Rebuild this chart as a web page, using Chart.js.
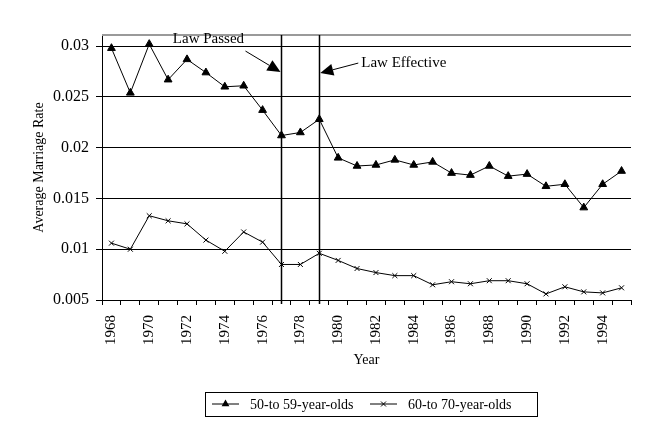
<!DOCTYPE html>
<html>
<head>
<meta charset="utf-8">
<script src="https://cdn.jsdelivr.net/npm/chart.js"></script>
<style>
  html, body { margin: 0; padding: 0; background: #ffffff; }
  #wrap { width: 650px; height: 432px; position: relative; }
</style>
</head>
<body>
<div id="wrap"><canvas id="c" width="650" height="432"></canvas></div>
<script>
// ---- Data ----
const years = ['1968','1969','1970','1971','1972','1973','1974','1975','1976','1977',
               '1978','1979','1980','1981','1982','1983','1984','1985','1986','1987',
               '1988','1989','1990','1991','1992','1993','1994','1995'];
const rate50to59 = [0.0298,0.0254,0.0302,0.0267,0.0287,0.0274,0.0260,0.0261,0.0237,0.0212,
                    0.0215,0.0228,0.0190,0.0182,0.0183,0.0188,0.0183,0.0186,0.0175,0.0173,
                    0.0182,0.0172,0.0174,0.0162,0.0164,0.0141,0.0164,0.0177];
const rate60to70 = [0.0106,0.0100,0.0133,0.0128,0.0125,0.0109,0.0098,0.0117,0.0107,0.0085,
                    0.0085,0.0096,0.0089,0.0081,0.0077,0.0074,0.0074,0.0065,0.0068,0.0066,
                    0.0069,0.0069,0.0066,0.0056,0.0063,0.0058,0.0057,0.0062];
const yTicks = [0.005, 0.01, 0.015, 0.02, 0.025, 0.03];
const yTickLabels = ['0.005', '0.01', '0.015', '0.02', '0.025', '0.03'];
const seriesNames = ['50-to 59-year-olds', '60-to 70-year-olds'];
const lawPassedYear = '1977';
const lawEffectiveYear = '1979';
const lawPassedArrowValue = 0.02745;
const lawEffectiveArrowValue = 0.02735;

const FONT = "'Liberation Serif', 'Times New Roman', serif";

function drawTri(ctx, x, y, r) {
  ctx.beginPath();
  ctx.moveTo(x, y - r);
  ctx.lineTo(x + r * Math.sin(Math.PI / 3), y + r / 2);
  ctx.lineTo(x - r * Math.sin(Math.PI / 3), y + r / 2);
  ctx.closePath();
  ctx.fill();
}
function drawX(ctx, x, y, r) {
  const d = r * Math.SQRT1_2;
  ctx.beginPath();
  ctx.moveTo(x - d, y - d); ctx.lineTo(x + d, y + d);
  ctx.moveTo(x + d, y - d); ctx.lineTo(x - d, y + d);
  ctx.stroke();
}
function arrow(ctx, x1, y1, x2, y2, len, halfW) {
  const ang = Math.atan2(y2 - y1, x2 - x1);
  const bx = x2 - len * Math.cos(ang), by = y2 - len * Math.sin(ang);
  ctx.beginPath();
  ctx.moveTo(x1, y1); ctx.lineTo(bx, by);
  ctx.stroke();
  ctx.beginPath();
  ctx.moveTo(x2, y2);
  ctx.lineTo(bx + halfW * Math.sin(ang), by - halfW * Math.cos(ang));
  ctx.lineTo(bx - halfW * Math.sin(ang), by + halfW * Math.cos(ang));
  ctx.closePath();
  ctx.fill();
}

const decor = {
  id: 'decor',
  beforeDatasetsDraw(chart) {
    const {ctx, chartArea: a, scales: {x}} = chart;
    ctx.save();
    // plot-area top border
    ctx.strokeStyle = '#9a9a9a';
    ctx.lineWidth = 2;
    ctx.beginPath();
    ctx.moveTo(a.left, a.top); ctx.lineTo(a.right, a.top);
    ctx.stroke();
    // law lines
    ctx.strokeStyle = '#000';
    ctx.lineWidth = 1.5;
    [lawPassedYear, lawEffectiveYear].forEach(yr => {
      const px = Math.round(x.getPixelForValue(yr)) + 0.5;
      ctx.beginPath();
      ctx.moveTo(px, a.top); ctx.lineTo(px, a.bottom + 4);
      ctx.stroke();
    });
    ctx.restore();
  },
  afterDraw(chart) {
    const {ctx, scales: {x, y}} = chart;
    ctx.save();
    ctx.fillStyle = '#000';
    ctx.strokeStyle = '#000';
    ctx.lineWidth = 1;
    // annotations
    const p1x = x.getPixelForValue(lawPassedYear), p1y = y.getPixelForValue(lawPassedArrowValue);
    arrow(ctx, p1x - 36, p1y - 21, p1x - 1, p1y, 13, 6);
    const p2x = x.getPixelForValue(lawEffectiveYear), p2y = y.getPixelForValue(lawEffectiveArrowValue);
    arrow(ctx, p2x + 39, p2y - 10, p2x + 1, p2y, 13, 6);
    ctx.font = '15px ' + FONT;
    ctx.textBaseline = 'middle';
    ctx.textAlign = 'center';
    ctx.fillText('Law Passed', p1x - 73, p1y - 33);
    ctx.textAlign = 'left';
    ctx.fillText('Law Effective', p2x + 42, p2y - 10);

    // legend
    const lx = 205, ly = 392, lw = 332, lh = 24, cy = ly + lh / 2;
    ctx.lineWidth = 1;
    ctx.strokeRect(lx + 0.5, ly + 0.5, lw, lh);
    ctx.font = '14px ' + FONT;
    ctx.textAlign = 'left';
    ctx.textBaseline = 'middle';
    // item 1
    ctx.beginPath(); ctx.moveTo(212, cy); ctx.lineTo(239, cy); ctx.stroke();
    drawTri(ctx, 225.5, cy, 4.5);
    ctx.fillText(chart.data.datasets[0].label, 250, cy + 1);
    // item 2
    ctx.beginPath(); ctx.moveTo(370, cy); ctx.lineTo(397, cy); ctx.stroke();
    drawX(ctx, 383.5, cy, 3.5);
    ctx.fillText(chart.data.datasets[1].label, 408, cy + 1);
    ctx.restore();
  }
};

new Chart(document.getElementById('c'), {
  type: 'line',
  data: {
    labels: years,
    datasets: [
      {
        label: seriesNames[0],
        data: rate50to59,
        borderColor: '#000',
        backgroundColor: '#000',
        borderWidth: 1,
        pointStyle: 'triangle',
        pointRadius: 4.5,
        pointBorderWidth: 1,
        pointBackgroundColor: '#000',
        pointBorderColor: '#000',
        tension: 0
      },
      {
        label: seriesNames[1],
        data: rate60to70,
        borderColor: '#000',
        backgroundColor: '#000',
        borderWidth: 1,
        pointStyle: 'crossRot',
        pointRadius: 3.5,
        pointBorderWidth: 1,
        pointBorderColor: '#000',
        tension: 0
      }
    ]
  },
  options: {
    responsive: false,
    animation: false,
    devicePixelRatio: 1,
    layout: { padding: { left: 0, right: 19, top: 35, bottom: 0 } },
    plugins: {
      legend: { display: false },
      tooltip: { enabled: false }
    },
    scales: {
      x: {
        type: 'category',
        offset: true,
        grid: {
          offset: true,
          drawOnChartArea: false,
          drawTicks: true,
          tickLength: 5,
          color: '#000',
          lineWidth: 1
        },
        border: { display: true, color: '#000', width: 1 },
        ticks: {
          autoSkip: false,
          minRotation: 90,
          maxRotation: 90,
          padding: 10,
          color: '#000',
          font: { family: FONT, size: 15 },
          callback: (v, i) => (i % 2 === 0 ? years[i] : '')
        },
        title: {
          display: true,
          text: 'Year',
          color: '#000',
          font: { family: FONT, size: 14 },
          padding: { top: 0, bottom: 63 }
        },
        afterFit: s => { s.height = 132; }
      },
      y: {
        min: 0.005,
        max: 0.0311,
        afterBuildTicks: s => { s.ticks = yTicks.map(v => ({ value: v })); },
        grid: {
          color: '#000',
          lineWidth: 1,
          drawTicks: true,
          tickLength: 6
        },
        border: { display: true, color: '#000', width: 1 },
        ticks: {
          padding: 7,
          color: '#000',
          font: { family: FONT, size: 16 },
          callback: (v) => {
            const i = yTicks.findIndex(t => Math.abs(t - v) < 1e-9);
            return i >= 0 ? yTickLabels[i] : '';
          }
        },
        title: {
          display: true,
          text: 'Average Marriage Rate',
          color: '#000',
          font: { family: FONT, size: 14 },
          padding: { top: 31, bottom: 0 }
        },
        afterFit: s => { s.width = 102; }
      }
    }
  },
  plugins: [decor]
});
</script>
</body>
</html>
